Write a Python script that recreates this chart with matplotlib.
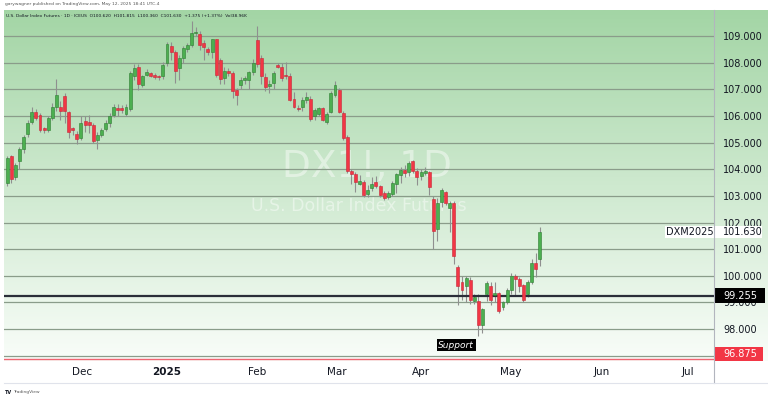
import matplotlib.pyplot as plt
import matplotlib.patches as mpatches
from matplotlib.lines import Line2D
import numpy as np

# --- DATA: DX1! daily candles ---
opens = [103.49, 104.49, 103.72, 104.30, 104.77, 105.33, 105.76, 106.15, 106.04, 105.54,
         105.46, 105.91, 106.36, 106.33, 106.76, 106.14, 105.55, 105.34, 105.17, 105.83,
         105.76, 105.65, 105.12, 105.30, 105.52, 105.74, 106.04, 106.30, 106.30, 106.09,
         106.28, 107.49, 107.84, 107.17, 107.56, 107.60, 107.55, 107.50, 107.49, 107.99,
         108.65, 108.42, 107.80, 108.18, 108.51, 108.67, 109.11, 109.09, 108.74, 108.52,
         108.42, 108.89, 108.09, 107.43, 107.70, 107.61, 106.99, 107.18, 107.36, 107.34,
         107.65, 108.86, 108.18, 107.46, 107.14, 107.26, 107.93, 107.86, 107.55, 107.51,
         106.64, 106.31, 106.34, 106.61, 106.64, 105.99, 106.09, 106.30, 105.76, 106.15,
         106.78, 106.99, 106.12, 105.22, 103.93, 103.83, 103.46, 103.52, 103.06, 103.29,
         103.52, 103.37, 103.12, 102.96, 103.06, 103.46, 103.78, 103.99, 103.89, 104.30,
         103.93, 103.74, 103.87, 103.89, 102.89, 101.75, 102.77, 103.14, 102.56, 102.72,
         100.33, 99.75, 99.60, 99.84, 99.06, 99.04, 98.15, 99.31, 99.60, 99.27,
         99.35, 98.81, 99.00, 99.47, 100.00, 99.87, 99.65, 99.31, 99.75, 100.50,
         100.62]
highs = [104.50, 104.55, 104.25, 104.85, 105.30, 105.85, 106.36, 106.25, 106.10, 105.60,
         106.00, 106.50, 107.39, 106.55, 106.85, 106.20, 105.60, 105.45, 106.00, 106.00,
         106.05, 105.75, 105.40, 105.55, 105.85, 106.10, 106.45, 106.45, 106.40, 106.45,
         107.70, 107.95, 107.95, 107.55, 107.75, 107.65, 107.60, 107.55, 108.05, 108.80,
         108.80, 108.50, 108.30, 108.65, 108.75, 109.57, 109.35, 109.20, 108.85, 108.60,
         108.90, 108.90, 108.20, 107.85, 107.80, 107.70, 107.05, 107.45, 107.50, 107.70,
         108.15, 109.39, 108.30, 107.60, 107.35, 107.70, 108.00, 108.00, 108.05, 107.60,
         106.90, 106.40, 106.70, 106.90, 106.75, 106.30, 106.35, 106.35, 106.15, 106.95,
         107.30, 107.05, 106.20, 105.30, 104.00, 103.90, 103.77, 103.60, 103.40, 103.70,
         103.75, 103.40, 103.20, 103.20, 103.55, 103.85, 104.10, 104.15, 104.30, 104.35,
         104.05, 104.00, 104.10, 103.95, 103.00, 102.93, 103.31, 103.20, 102.80, 102.80,
         100.40, 100.00, 100.00, 99.95, 99.30, 99.30, 98.80, 99.80, 99.75, 99.75,
         99.40, 99.05, 99.55, 100.10, 100.05, 99.95, 99.70, 99.85, 100.65, 100.85,
         101.815]
lows = [103.37, 103.47, 103.60, 104.00, 104.60, 105.20, 105.70, 105.85, 105.40, 105.35,
        105.40, 105.85, 106.20, 105.87, 105.75, 105.18, 105.30, 104.97, 105.10, 105.40,
        105.35, 105.00, 104.77, 105.20, 105.45, 105.60, 105.95, 106.00, 106.10, 106.00,
        106.20, 107.35, 106.99, 107.10, 107.50, 107.45, 107.40, 107.35, 107.40, 107.90,
        108.10, 107.24, 107.36, 108.00, 108.40, 108.60, 109.00, 108.50, 108.10, 108.30,
        108.20, 107.45, 107.20, 107.20, 107.50, 106.68, 106.43, 107.00, 107.20, 107.00,
        107.55, 107.85, 107.20, 106.95, 106.85, 107.00, 107.80, 107.30, 107.40, 106.55,
        106.30, 106.20, 106.20, 106.50, 105.80, 105.85, 106.00, 105.80, 105.70, 106.10,
        106.70, 106.10, 105.10, 103.85, 103.45, 103.15, 103.40, 102.95, 102.95, 103.20,
        103.30, 102.95, 102.85, 102.90, 103.00, 103.10, 103.50, 103.70, 103.75, 103.85,
        103.43, 103.60, 103.80, 103.05, 100.99, 101.30, 102.60, 102.65, 101.65, 100.43,
        98.90, 99.10, 99.00, 98.95, 98.95, 97.75, 97.85, 99.05, 98.90, 99.00,
        98.60, 98.70, 98.95, 99.30, 99.25, 99.40, 99.00, 99.20, 99.70, 99.97,
        100.36]
closes = [104.43, 103.62, 104.18, 104.77, 105.22, 105.74, 106.15, 105.93, 105.49, 105.46,
          105.93, 106.36, 106.80, 106.18, 106.18, 105.39, 105.46, 105.14, 105.74, 105.68,
          105.68, 105.08, 105.30, 105.49, 105.74, 105.99, 106.33, 106.24, 106.21, 106.33,
          107.61, 107.80, 107.21, 107.49, 107.66, 107.52, 107.46, 107.45, 107.93, 108.71,
          108.39, 107.71, 108.18, 108.55, 108.67, 109.13, 109.16, 108.67, 108.61, 108.41,
          108.89, 107.55, 107.40, 107.70, 107.61, 106.93, 106.79, 107.36, 107.44, 107.64,
          108.01, 107.95, 107.49, 107.11, 107.21, 107.61, 107.86, 107.43, 107.51, 106.61,
          106.34, 106.25, 106.59, 106.72, 105.89, 106.21, 106.29, 105.87, 106.09, 106.87,
          107.17, 106.14, 105.17, 103.93, 103.83, 103.52, 103.55, 103.02, 103.22, 103.44,
          103.37, 103.02, 102.93, 103.12, 103.47, 103.81, 103.99, 103.87, 104.22, 103.93,
          103.72, 103.89, 103.93, 103.34, 101.68, 102.75, 103.22, 102.75, 102.72, 100.75,
          99.62, 99.47, 99.90, 99.09, 99.19, 98.15, 98.75, 99.72, 99.10, 99.37,
          98.69, 99.00, 99.47, 99.99, 99.87, 99.62, 99.09, 99.75, 100.50, 100.255,
          101.63]

month_pos = [18.3, 38.8, 61.0, 80.5, 101.0, 123.0, 145.0, 166.2]
month_labels = ['Dec', '2025', 'Feb', 'Mar', 'Apr', 'May', 'Jun', 'Jul']
price_ticks = list(range(97, 110))
last_price = 101.630
hline_price = 99.255
low_price = 96.875
support_pos = (109.6, 97.40)

W, H = 768, 398
fig = plt.figure(figsize=(W / 100, H / 100), dpi=100, facecolor='white')

def fx(px):
    return px / W

def fy(py):
    return 1 - py / H

# --- gradient background (chart + price scale) ---
bg = fig.add_axes([fx(4), fy(361), fx(764), 351 / H], zorder=0)
top = np.array([163, 213, 165]) / 255
bot = np.array([249, 253, 249]) / 255
t = np.linspace(0, 1, 256)[:, None, None]
bg.imshow(top + (bot - top) * t, aspect='auto', extent=[0, 1, 0, 1], origin='upper')
bg.axis('off')

# --- main chart axes ---
ax = fig.add_axes([fx(4), fy(361), fx(710), 351 / H], zorder=1)
ax.patch.set_alpha(0)
ax.set_xlim(-0.78, 172.5)
ax.set_ylim(96.80, 109.985)
for s in ax.spines.values():
    s.set_visible(False)

ax.set_yticks(price_ticks)
ax.yaxis.tick_right()
# 97.000 sits under the red price box, so it gets no label
ax.yaxis.set_major_formatter(plt.FuncFormatter(lambda v, p: '' if v < 97.5 else f'{v:.3f}'))
ax.tick_params(axis='y', length=0, pad=6.5, labelsize=7, labelcolor='#131722')
ax.yaxis.grid(True, color='#8a9c8a', lw=0.9)
ax.set_axisbelow(True)

ax.set_xticks(month_pos, month_labels)
ax.tick_params(axis='x', length=0, pad=4.5, labelsize=7.5, labelcolor='#131722')
ax.get_xticklabels()[1].set_fontweight('bold')

# watermark
ax.text(87.9, 104.07, 'DX1!, 1D', fontsize=27, color='white', alpha=0.45,
        ha='center', va='center', zorder=0.5)
ax.text(85.7, 102.61, 'U.S. Dollar Index Futures', fontsize=12.5, color='white', alpha=0.45,
        ha='center', va='center', zorder=0.5)

# candles
x = np.arange(len(closes))
o = np.array(opens)
c = np.array(closes)
up = c >= o
body = c - o
body = np.where(np.abs(body) < 0.04, np.where(up, 0.04, -0.04), body)
ax.vlines(x, lows, highs, color='#8f8f8f', lw=0.8, zorder=2)
ax.bar(x[up], body[up], bottom=o[up], width=0.72, color='#4caf50',
       edgecolor='#2e7d32', lw=0.4, zorder=3)
ax.bar(x[~up], body[~up], bottom=o[~up], width=0.72, color='#f23645',
       edgecolor='#c62838', lw=0.4, zorder=3)

# horizontal levels
ax.axhline(hline_price, color='#2a2e39', lw=1.6, zorder=2.5)
ax.axhline(low_price, color='#f06472', lw=1.0, zorder=2.5)

ax.text(*support_pos, 'Support', fontsize=6.5, style='italic', color='white',
        ha='center', va='center', zorder=6,
        bbox=dict(boxstyle='square,pad=0.2', fc='black', ec='none'))

# price-scale labels
yt = ax.get_yaxis_transform()
unit = 1 / 26.7  # price per pixel
ax.add_patch(mpatches.Rectangle((0.931, last_price - 6 * unit), 0.1366, 12 * unit,
                                transform=yt, fc='white', ec='none', clip_on=False, zorder=5))
ax.text(0.966, last_price, 'DXM2025', transform=yt, fontsize=7, color='#131722',
        ha='center', va='center', zorder=6, clip_on=False)
ax.text(1.0127, last_price, f'{last_price:.3f}', transform=yt, fontsize=7, color='#131722',
        ha='left', va='center', zorder=6, clip_on=False)

ax.add_patch(mpatches.Rectangle((1.0, hline_price - 7.5 * unit), 0.0718, 15 * unit,
                                transform=yt, fc='black', ec='none', clip_on=False, zorder=5))
ax.text(1.0127, hline_price, f'{hline_price:.3f}', transform=yt, fontsize=7, color='white',
        ha='left', va='center', zorder=6, clip_on=False)

low_y = max(low_price, 96.80 + 7 * unit)
ax.add_patch(mpatches.Rectangle((1.0, low_y - 7 * unit), 0.069, 14 * unit,
                                transform=yt, fc='#f23645', ec='none', clip_on=False, zorder=5))
ax.text(1.0127, low_y, f'{low_price:.3f}', transform=yt, fontsize=7, color='white',
        ha='left', va='center', zorder=6, clip_on=False)

# frame lines
fig.add_artist(Line2D([fx(714), fx(714)], [fy(10), fy(383)], color='#b2b5be', lw=0.8))
fig.add_artist(Line2D([fx(4), fx(768)], [fy(383), fy(383)], color='#e0e3eb', lw=0.8))

# header texts
fig.text(fx(5), fy(4.5), 'garywagner published on TradingView.com, May 12, 2025 18:41 UTC-4',
         fontsize=3.2, color='#555555', va='center')
fig.text(fx(6), fy(16), 'U.S. Dollar Index Futures · 1D · ICEUS  O100.620  H101.815  L100.360  '
         'C101.630  +1.375 (+1.37%)  Vol38.96K', fontsize=3.2, color='#131722', va='center', zorder=10)
fig.text(fx(5), fy(392), 'TV', fontsize=3.5, fontweight='bold', color='#131722', va='center')
fig.text(fx(13), fy(392), 'TradingView', fontsize=3.2, color='#555555', va='center')

fig.savefig('out.png', dpi=100, facecolor='white')
